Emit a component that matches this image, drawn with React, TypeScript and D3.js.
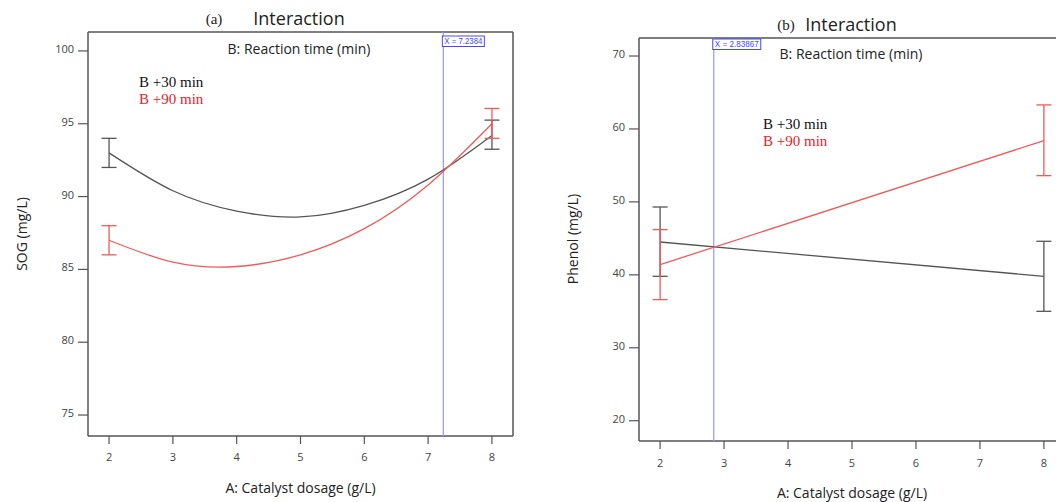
import React from 'react';
import * as d3 from 'd3';

// x axis (A: Catalyst dosage, g/L)
const xTicks = [2, 3, 4, 5, 6, 7, 8];
const dosage = [2, 3, 4, 5, 6, 7, 8];
const dosageEnds = [2, 8];

// (a) SOG, curves
const sogTicks = [75, 80, 85, 90, 95, 100];
const sog30 = [93.0, 90.4, 89.0, 88.6, 89.4, 91.2, 94.2];
const sog90 = [87.0, 85.5, 85.2, 86.0, 87.8, 90.8, 95.0];
const sog30Lo = [92.0, 93.25];
const sog30Hi = [94.0, 95.25];
const sog90Lo = [86.0, 94.0];
const sog90Hi = [88.0, 96.05];

// (b) Phenol, straight lines
const phenolTicks = [20, 30, 40, 50, 60, 70];
const phenol30 = [44.5, 39.8];
const phenol90 = [41.4, 58.4];
const phenol30Lo = [39.8, 35.0];
const phenol30Hi = [49.3, 44.6];
const phenol90Lo = [36.6, 53.6];
const phenol90Hi = [46.2, 63.3];

const legendLabels = ['B +30 min', 'B +90 min'];

const BLACK = '#555';
const RED = '#f25a5a';
const BLUE_LINE = '#9c9cff';
const BLUE = '#4646ff';
const SANS = '"Open Sans", "DejaVu Sans", sans-serif';
const SERIF = '"Liberation Serif", "Times New Roman", serif';

type Series = { xs: number[]; ys: number[]; lo: number[]; hi: number[]; color: string };

type PanelProps = {
  tag: string;
  box: { x0: number; x1: number; y0: number; y1: number };
  yDomain: [number, number];
  yTicks: number[];
  yLabel: string;
  yLabelPos: [number, number];
  series: Series[];
  curve: d3.CurveFactory;
  cursorX: number;
  cursorText: string;
  cursorW: number;
  titleY: number;
  tagX: number;
  titleX: number;
  subY: number;
  legendX: number;
  legendY: number;
  boxTop: number;
  xLabelY: number;
  tickLabelDy: number;
  drawRight: boolean;
};

function Panel(p: PanelProps) {
  const { x0, x1, y0, y1 } = p.box;
  const x = d3.scaleLinear().domain([1.67, 8.33]).range([x0, x1]);
  const y = d3.scaleLinear().domain(p.yDomain).range([y1, y0]);
  const cx = x(p.cursorX);

  return (
    <g>
      <text x={p.tagX} y={p.titleY - 1} fontFamily={SERIF} fontSize={15} textAnchor="middle" fill="#222">{p.tag}</text>
      <text x={p.titleX} y={p.titleY} fontFamily={SANS} fontSize={18} textAnchor="middle" fill="#222">Interaction</text>

      {/* frame */}
      <line x1={x0} x2={x1} y1={y0} y2={y0} stroke={BLACK} strokeWidth={1.5} />
      <line x1={x0} x2={x1} y1={y1} y2={y1} stroke={BLACK} strokeWidth={1.5} />
      <line x1={x0} x2={x0} y1={y0} y2={y1} stroke={BLACK} strokeWidth={1.5} />
      {p.drawRight && <line x1={x1} x2={x1} y1={y0} y2={y1} stroke={BLACK} strokeWidth={1.5} />}

      {xTicks.map(t => (
        <g key={'x' + t}>
          <line x1={x(t)} x2={x(t)} y1={y1} y2={y1 + 8} stroke={BLACK} strokeWidth={1.2} />
          <text x={x(t)} y={y1 + p.tickLabelDy} fontFamily={SANS} fontSize={11} textAnchor="middle" fill="#444">{t}</text>
        </g>
      ))}
      {p.yTicks.map(t => (
        <g key={'y' + t}>
          <line x1={x0 - 10} x2={x0} y1={y(t)} y2={y(t)} stroke={BLACK} strokeWidth={1.2} />
          <text x={x0 - 14} y={y(t) + 2} fontFamily={SANS} fontSize={11} textAnchor="end" fill="#444">{t}</text>
        </g>
      ))}

      <text x={(x0 + x1) / 2} y={p.xLabelY} fontFamily={SANS} fontSize={14} textAnchor="middle" fill="#222">A: Catalyst dosage (g/L)</text>
      <text transform={`translate(${p.yLabelPos[0]},${p.yLabelPos[1]}) rotate(-90)`} fontFamily={SANS} fontSize={14} textAnchor="middle" dy="0.35em" fill="#222">{p.yLabel}</text>

      <text x={p.titleX} y={p.subY} fontFamily={SANS} fontSize={14} textAnchor="middle" fill="#222">B: Reaction time (min)</text>
      <text x={p.legendX} y={p.legendY} fontFamily={SERIF} fontSize={15} fill="#111">{legendLabels[0]}</text>
      <text x={p.legendX} y={p.legendY + 17} fontFamily={SERIF} fontSize={15} fill="#e8222c">{legendLabels[1]}</text>

      {/* cursor */}
      <line x1={cx} x2={cx} y1={y0} y2={y1} stroke={BLUE_LINE} strokeWidth={1.3} />
      <rect x={cx - 1} y={p.boxTop} width={p.cursorW} height={10.5} fill="white" stroke={BLUE} strokeWidth={1} />
      <text x={cx + 1} y={p.boxTop + 8} fontFamily='"Liberation Sans", sans-serif' fontSize={8.2}
        textLength={p.cursorW - 4} lengthAdjust="spacingAndGlyphs" fill={BLUE}>{p.cursorText}</text>

      {p.series.map((s, i) => {
        const line = d3.line<number>().x((_, j) => x(s.xs[j])).y(v => y(v)).curve(p.curve);
        const ends = [s.xs[0], s.xs[s.xs.length - 1]];
        return (
          <g key={i}>
            <path d={line(s.ys) ?? ''} fill="none" stroke={s.color} strokeWidth={1.3} />
            {ends.map((e, j) => (
              <g key={j} stroke={s.color} strokeWidth={1.3}>
                <line x1={x(e)} x2={x(e)} y1={y(s.lo[j])} y2={y(s.hi[j])} />
                <line x1={x(e) - 7.5} x2={x(e) + 7.5} y1={y(s.lo[j])} y2={y(s.lo[j])} />
                <line x1={x(e) - 7.5} x2={x(e) + 7.5} y1={y(s.hi[j])} y2={y(s.hi[j])} />
              </g>
            ))}
          </g>
        );
      })}
    </g>
  );
}

export default function App() {
  return (
    <svg width={1056} height={502} style={{ position: 'absolute', left: 0, top: 0, background: 'white' }}>
      <rect width={1056} height={502} fill="white" />
      <Panel
        tag="(a)"
        box={{ x0: 88, x1: 513, y0: 32, y1: 436 }}
        yDomain={[73.56, 101.3]}
        yTicks={sogTicks}
        yLabel="SOG (mg/L)"
        yLabelPos={[22, 234]}
        series={[
          { xs: dosage, ys: sog30, lo: sog30Lo, hi: sog30Hi, color: BLACK },
          { xs: dosage, ys: sog90, lo: sog90Lo, hi: sog90Hi, color: RED },
        ]}
        curve={d3.curveNatural}
        cursorX={7.2384}
        cursorText="X = 7.2384"
        cursorW={42}
        titleY={25}
        tagX={214}
        titleX={299}
        subY={54}
        legendX={139}
        legendY={87}
        boxTop={36}
        xLabelY={493}
        tickLabelDy={25}
        drawRight={true}
      />
      <Panel
        tag="(b)"
        box={{ x0: 639, x1: 1065, y0: 38, y1: 441 }}
        yDomain={[17.22, 72.47]}
        yTicks={phenolTicks}
        yLabel="Phenol (mg/L)"
        yLabelPos={[573, 239]}
        series={[
          { xs: dosageEnds, ys: phenol30, lo: phenol30Lo, hi: phenol30Hi, color: BLACK },
          { xs: dosageEnds, ys: phenol90, lo: phenol90Lo, hi: phenol90Hi, color: RED },
        ]}
        curve={d3.curveLinear}
        cursorX={2.83867}
        cursorText="X = 2.83867"
        cursorW={48}
        titleY={31}
        tagX={786}
        titleX={851}
        subY={59}
        legendX={763}
        legendY={129}
        boxTop={39}
        xLabelY={498}
        tickLabelDy={26}
        drawRight={false}
      />
    </svg>
  );
}
